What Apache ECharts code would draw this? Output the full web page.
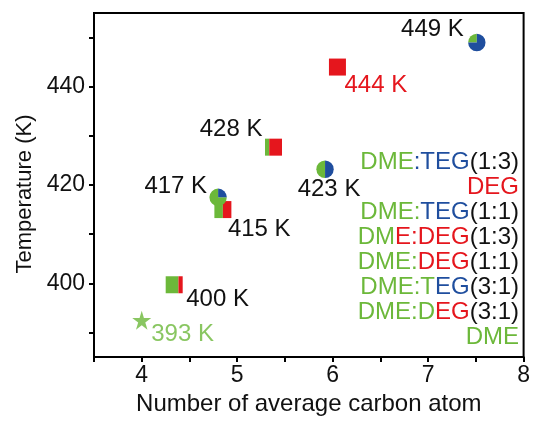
<!DOCTYPE html>
<html>
<head>
<meta charset="utf-8">
<script src="https://cdn.jsdelivr.net/npm/echarts@6/dist/echarts.min.js"></script>
<style>html,body{margin:0;padding:0;background:#fff}#c{width:533px;height:421px}</style>
</head>
<body>
<div id="c"></div>
<script>
// ---- data ----
var squareX = [6.05, 5.38, 4.85, 4.34];
var squareY = [444.0, 427.7, 415.0, 399.7];
var squareGreenFrac = [0, 0.25, 0.5, 0.75];
var squareLabels = ['444 K', '428 K', '415 K', '400 K'];

var circleX = [7.51, 5.92, 4.80];
var circleY = [449.0, 423.2, 417.5];
var circleBlueFrac = [0.75, 0.5, 0.25];
var circleLabels = ['449 K', '423 K', '417 K'];

var starX = [4.0];
var starY = [392.5];
var starLabels = ['393 K'];

var xTickValues = [3.5, 4, 4.5, 5, 5.5, 6, 6.5, 7, 7.5, 8];
var xLabelValues = [4, 5, 6, 7, 8];
var yTickValues = [390, 400, 410, 420, 430, 440, 450];
var yLabelValues = [400, 420, 440];

var legendLines = [
  [['DME', 'g'], [':TEG', 'b'], ['(1:3)', 'k']],
  [['DEG', 'r']],
  [['DME:', 'g'], ['TEG', 'b'], ['(1:1)', 'k']],
  [['DM', 'g'], ['E:DEG', 'r'], ['(1:3)', 'k']],
  [['DME:', 'g'], ['DEG', 'r'], ['(1:1)', 'k']],
  [['DME:T', 'g'], ['EG', 'b'], ['(3:1)', 'k']],
  [['DME:D', 'g'], ['EG', 'r'], ['(3:1)', 'k']],
  [['DME', 'g']]
];

// ---- styles ----
var GREEN = '#6cb83a', RED = '#e5161d', BLUE = '#1f4e9e', BLACK = '#111';
var FONT = '"Liberation Sans", Arial, Helvetica, sans-serif';
var squareLabelStyle = [
  {dx: 7, dy: 18, align: 'left', color: RED},
  {dx: -11, dy: -18, align: 'right', color: BLACK},
  {dx: 5, dy: 20, align: 'left', color: BLACK},
  {dx: 12, dy: 15, align: 'left', color: BLACK}
];
var circleLabelStyle = [
  {dx: -13, dy: -13, align: 'right', color: BLACK},
  {dx: 4, dy: 20, align: 'center', color: BLACK},
  {dx: -11, dy: -11, align: 'right', color: BLACK}
];
var SQ = 17, CR = 8.7;

function labelEl(p, st, text) {
  return {
    type: 'text',
    style: {
      x: p[0] + st.dx, y: p[1] + st.dy, text: text,
      fill: st.color, font: '24px ' + FONT,
      textAlign: st.align, textVerticalAlign: 'middle'
    },
    z2: 20
  };
}

var squareData = squareX.map(function (x, i) { return [x, squareY[i], squareGreenFrac[i], i]; });
var circleData = circleX.map(function (x, i) { return [x, circleY[i], circleBlueFrac[i], i]; });
var starData = starX.map(function (x, i) { return [x, starY[i]]; });

var colorMap = {g: GREEN, b: BLUE, r: RED, k: BLACK};
var graphics = legendLines.map(function (line, i) {
  var rich = {};
  var txt = line.map(function (seg, j) {
    rich['s' + j] = {fill: colorMap[seg[1]], font: '24px ' + FONT};
    return '{s' + j + '|' + seg[0] + '}';
  }).join('');
  return {
    type: 'text',
    x: 519, y: 162 + 25 * i,
    style: {
      text: txt, rich: rich, textAlign: 'right', textVerticalAlign: 'middle',
      font: '24px ' + FONT
    },
    z: 100
  };
});

var chart = echarts.init(document.getElementById('c'), null, {renderer: 'canvas'});
chart.setOption({
  animation: false,
  grid: {left: 94, right: 8, top: 13, bottom: 62, show: true, borderColor: '#000', borderWidth: 2, backgroundColor: 'transparent'},
  xAxis: {
    type: 'value', min: 3.5, max: 8,
    name: 'Number of average carbon atom', nameLocation: 'middle', nameGap: 35,
    nameTextStyle: {fontSize: 24, color: BLACK, fontFamily: FONT},
    axisLine: {show: true, lineStyle: {color: '#000', width: 2}},
    axisTick: {show: true, length: 5, lineStyle: {color: '#000', width: 2}, customValues: xTickValues},
    axisLabel: {fontSize: 23, color: BLACK, fontFamily: FONT, margin: 7, customValues: xLabelValues},
    splitLine: {show: false}
  },
  yAxis: {
    type: 'value', min: 385, max: 455,
    name: 'Temperature (K)', nameLocation: 'middle', nameGap: 57,
    nameTextStyle: {fontSize: 22, color: BLACK, fontFamily: FONT, padding: [0, 18, 0, 0]},
    axisLine: {show: true, lineStyle: {color: '#000', width: 2}},
    axisTick: {show: true, length: 5, lineStyle: {color: '#000', width: 2}, customValues: yTickValues},
    axisLabel: {fontSize: 23, color: BLACK, fontFamily: FONT, margin: 9, customValues: yLabelValues},
    splitLine: {show: false}
  },
  graphic: graphics,
  series: [
    {
      type: 'custom', data: squareData, z: 3,
      renderItem: function (params, api) {
        var p = api.coord([api.value(0), api.value(1)]);
        var f = api.value(2), i = api.value(3);
        var x0 = p[0] - SQ / 2, y0 = p[1] - SQ / 2;
        var children = [];
        if (f > 0) children.push({type: 'rect', shape: {x: x0, y: y0, width: SQ * f, height: SQ}, style: {fill: GREEN}});
        if (f < 1) children.push({type: 'rect', shape: {x: x0 + SQ * f, y: y0, width: SQ * (1 - f), height: SQ}, style: {fill: RED}});
        children.push(labelEl(p, squareLabelStyle[i], squareLabels[i]));
        return {type: 'group', children: children};
      }
    },
    {
      type: 'custom', data: circleData, z: 4,
      renderItem: function (params, api) {
        var p = api.coord([api.value(0), api.value(1)]);
        var b = api.value(2), i = api.value(3);
        var s = -Math.PI / 2, m = s + b * 2 * Math.PI, e = s + 2 * Math.PI;
        return {type: 'group', children: [
          {type: 'sector', shape: {cx: p[0], cy: p[1], r: CR, r0: 0, startAngle: m, endAngle: e, clockwise: true}, style: {fill: GREEN}},
          {type: 'sector', shape: {cx: p[0], cy: p[1], r: CR, r0: 0, startAngle: s, endAngle: m, clockwise: true}, style: {fill: BLUE}},
          labelEl(p, circleLabelStyle[i], circleLabels[i])
        ]};
      }
    },
    {
      type: 'scatter', data: starData, z: 3,
      symbol: 'path://M50,0 L61,35 L98,35 L68,57 L79,91 L50,70 L21,91 L32,57 L2,35 L39,35 Z',
      symbolSize: 19,
      itemStyle: {color: GREEN},
      label: {show: true, formatter: function (p) { return starLabels[p.dataIndex]; },
        position: 'right', offset: [0, 14], distance: 0, color: GREEN, fontSize: 24, fontFamily: FONT}
    }
  ]
});
</script>
</body>
</html>
